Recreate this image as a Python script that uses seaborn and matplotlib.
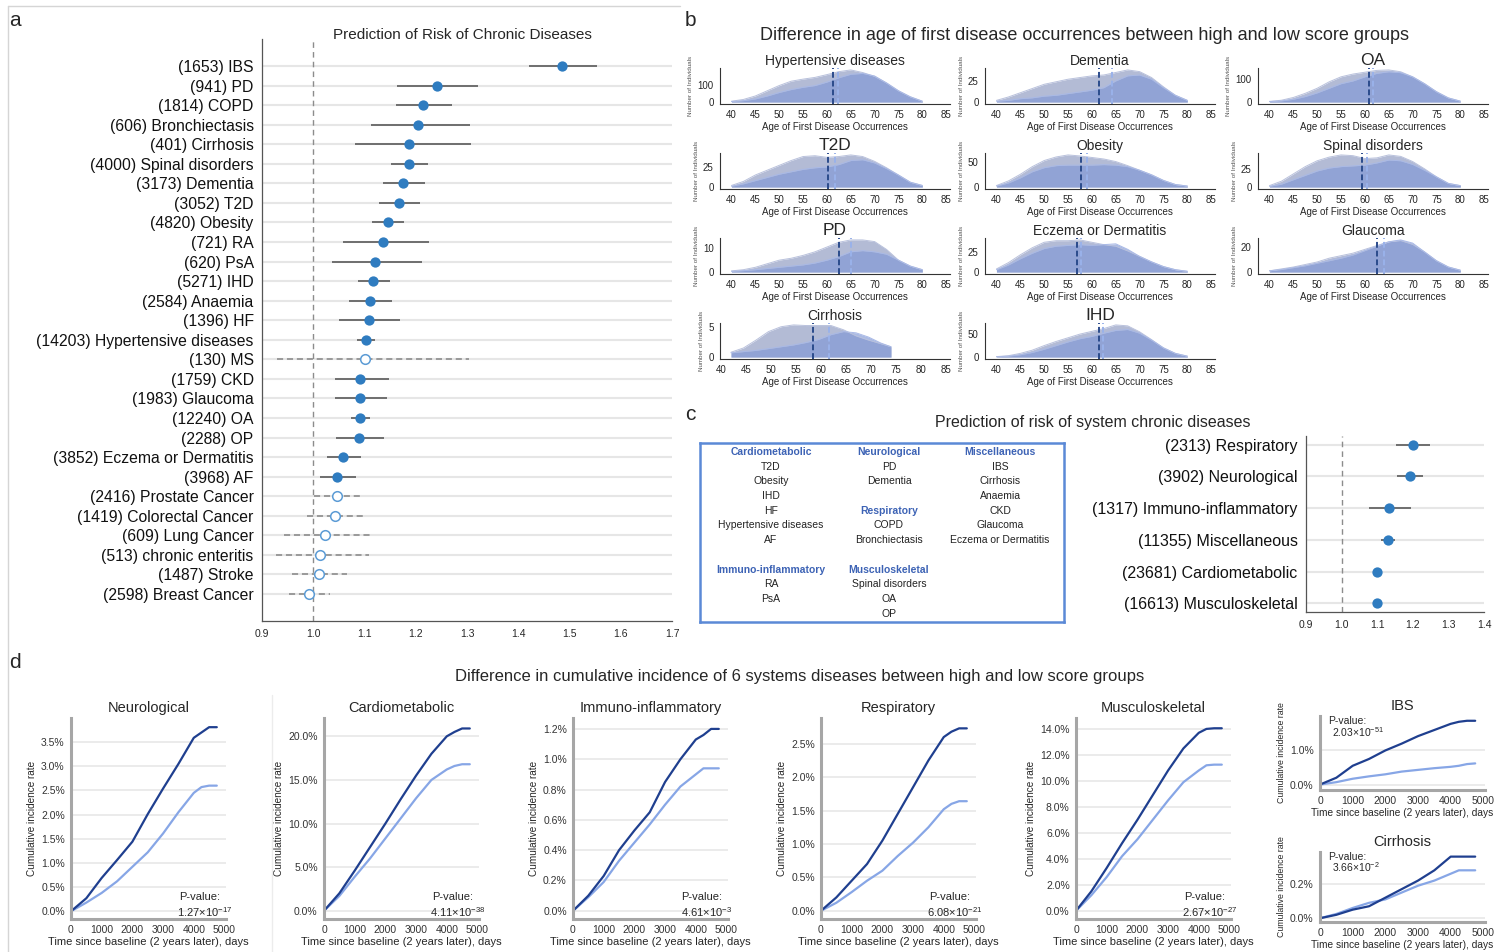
import numpy as np
import pandas as pd
import matplotlib
matplotlib.use("Agg")
import matplotlib.pyplot as plt
import seaborn as sns
from matplotlib import font_manager as fm
from matplotlib.ticker import FuncFormatter

# ---------------- a: forest plot of single diseases
diseases = ["IBS", "PD", "COPD", "Bronchiectasis", "Cirrhosis", "Spinal disorders", "Dementia", "T2D",
            "Obesity", "RA", "PsA", "IHD", "Anaemia", "HF", "Hypertensive diseases", "MS", "CKD",
            "Glaucoma", "OA", "OP", "Eczema or Dermatitis", "AF", "Prostate Cancer", "Colorectal Cancer",
            "Lung Cancer", "chronic enteritis", "Stroke", "Breast Cancer"]
cases = [1653, 941, 1814, 606, 401, 4000, 3173, 3052, 4820, 721, 620, 5271, 2584, 1396, 14203, 130,
         1759, 1983, 12240, 2288, 3852, 3968, 2416, 1419, 609, 513, 1487, 2598]
hr = [1.486, 1.241, 1.215, 1.205, 1.187, 1.186, 1.176, 1.168, 1.146, 1.137, 1.120, 1.117, 1.111, 1.108,
      1.103, 1.100, 1.092, 1.091, 1.091, 1.090, 1.059, 1.047, 1.047, 1.043, 1.023, 1.013, 1.012, 0.992]
hr_lo = [1.421, 1.164, 1.162, 1.112, 1.081, 1.151, 1.136, 1.129, 1.114, 1.059, 1.036, 1.087, 1.069, 1.050,
         1.086, 0.929, 1.042, 1.043, 1.073, 1.045, 1.026, 1.014, 1.002, 0.988, 0.942, 0.927, 0.958, 0.953]
hr_hi = [1.554, 1.322, 1.271, 1.305, 1.308, 1.224, 1.219, 1.209, 1.178, 1.225, 1.212, 1.149, 1.154, 1.170,
         1.121, 1.303, 1.147, 1.143, 1.111, 1.138, 1.094, 1.084, 1.095, 1.103, 1.110, 1.108, 1.065, 1.032]
significant = [True] * 15 + [False] + [True] * 6 + [False] * 6

# ---------------- b: age of first occurrence (curves read at 2.5 year steps)
AGES = [40, 42.5, 45, 47.5, 50, 52.5, 55, 57.5, 60, 62.5, 65, 67.5, 70, 72.5, 75, 77.5, 80]
CIRR_AGES = [42, 44.5, 47, 49.5, 52, 54.5, 57, 59.5, 62, 64.5, 67, 69.5, 72, 74]
b_names = ["Hypertensive diseases", "Dementia", "OA", "T2D", "Obesity", "Spinal disorders",
           "PD", "Eczema or Dermatitis", "Glaucoma", "Cirrhosis", "IHD"]
b_high = [
    [5, 15, 35, 65, 95, 120, 132, 142, 158, 175, 185, 170, 148, 110, 65, 30, 5],
    [2, 6, 11, 16, 21, 24, 27, 29, 31, 32, 35, 38, 36, 29, 18, 8, 2],
    [3, 8, 20, 38, 60, 88, 110, 122, 130, 138, 140, 132, 110, 80, 45, 18, 4],
    [2, 7, 15, 21, 27, 33, 38, 39, 37, 38, 40, 38, 32, 24, 15, 6, 2],
    [3, 12, 25, 40, 52, 59, 63, 61, 58, 55, 50, 42, 33, 24, 13, 5, 2],
    [2, 8, 18, 28, 36, 41, 44, 43, 39, 40, 44, 42, 35, 25, 14, 5, 2],
    [0.5, 1, 2, 3.5, 5, 5.8, 7, 8.5, 10.5, 12.5, 13.5, 13.5, 12.8, 9.5, 5, 2.5, 1],
    [4, 12, 22, 31, 38, 40, 40, 41, 38, 35, 33, 27, 20, 13, 7, 3, 1],
    [1, 2.5, 4, 6, 8, 11, 13, 15, 18, 21, 24, 25, 22, 16, 9, 4, 1.5],
    [0.8, 1.5, 2.8, 4.2, 5.0, 5.3, 5.2, 5.2, 5.2, 4.5, 3.5, 2.8, 2.2, 1.7],
    [1, 3, 8, 15, 25, 34, 42, 50, 56, 62, 70, 68, 55, 38, 20, 8, 2],
]
b_low = [
    [3, 8, 18, 35, 55, 72, 85, 95, 115, 140, 160, 165, 150, 110, 65, 30, 5],
    [1, 2, 4, 5, 7, 8, 10, 12, 14, 17, 25, 31, 32, 27, 17, 8, 2],
    [2, 5, 12, 24, 40, 60, 80, 92, 110, 125, 132, 128, 110, 80, 45, 18, 4],
    [1, 4, 8, 12, 16, 19, 22, 24, 25, 28, 33, 34, 30, 23, 15, 6, 2],
    [2, 8, 18, 30, 38, 42, 43, 43, 43, 44, 43, 40, 33, 24, 13, 5, 2],
    [1, 4, 10, 16, 22, 26, 28, 29, 30, 33, 37, 36, 31, 23, 14, 5, 2],
    [0.3, 0.6, 1, 1.5, 2, 2.5, 3, 3.8, 5, 6.5, 8.5, 9, 8.5, 7.5, 5, 2.5, 1],
    [3, 9, 17, 24, 30, 33, 34, 35, 34, 35, 36, 29, 20, 13, 7, 3, 1],
    [1, 2, 3.5, 5, 7, 9, 11, 13.5, 17, 20.5, 24, 25.5, 23, 16, 9, 4, 1.5],
    [0.7, 0.9, 1.1, 1.4, 1.7, 2.0, 2.4, 2.9, 3.7, 4.2, 4.0, 3.3, 2.3, 1.7],
    [0.5, 2, 5, 10, 17, 25, 33, 40, 45, 52, 58, 60, 52, 37, 20, 8, 2],
]
b_mean_high = [61.2, 61.5, 60.8, 60.2, 57.8, 59.4, 62.5, 56.8, 62.5, 58.4, 61.5]
b_mean_low = [62.4, 64.2, 61.8, 61.8, 59.0, 60.5, 65.0, 57.7, 64.0, 61.5, 62.3]
b_yticks = [[0, 100], [0, 25], [0, 100], [0, 25], [0, 50], [0, 25], [0, 10], [0, 25], [0, 20], [0, 5], [0, 50]]

# ---------------- c: system level
systems = ["Respiratory", "Neurological", "Immuno-inflammatory", "Miscellaneous", "Cardiometabolic", "Musculoskeletal"]
sys_cases = [2313, 3902, 1317, 11355, 23681, 16613]
sys_hr = [1.200, 1.193, 1.132, 1.130, 1.100, 1.100]
sys_lo = [1.153, 1.155, 1.076, 1.112, 1.091, 1.090]
sys_hi = [1.247, 1.230, 1.196, 1.150, 1.110, 1.111]
group_cols = [
    [("Cardiometabolic", ["T2D", "Obesity", "IHD", "HF", "Hypertensive diseases", "AF"]),
     ("Immuno-inflammatory", ["RA", "PsA"])],
    [("Neurological", ["PD", "Dementia"]), ("Respiratory", ["COPD", "Bronchiectasis"]),
     ("Musculoskeletal", ["Spinal disorders", "OA", "OP"])],
    [("Miscellaneous", ["IBS", "Cirrhosis", "Anaemia", "CKD", "Glaucoma", "Eczema or Dermatitis"])],
]

# ---------------- d: cumulative incidence (%)
DAYS = [0, 500, 1000, 1500, 2000, 2500, 3000, 3500, 4000, 4250, 4500, 4750]
d_names = ["Neurological", "Cardiometabolic", "Immuno-inflammatory", "Respiratory", "Musculoskeletal", "IBS", "Cirrhosis"]
d_high = [
    [0, 0.27, 0.69, 1.06, 1.44, 2.01, 2.54, 3.05, 3.59, 3.70, 3.81, 3.81],
    [0, 2.0, 4.6, 7.3, 10.0, 12.8, 15.5, 18.0, 20.0, 20.5, 20.9, 20.9],
    [0, 0.10, 0.23, 0.40, 0.53, 0.65, 0.85, 1.00, 1.13, 1.16, 1.20, 1.20],
    [0, 0.20, 0.45, 0.70, 1.05, 1.45, 1.85, 2.25, 2.60, 2.68, 2.73, 2.73],
    [0, 1.5, 3.3, 5.2, 7.0, 8.9, 10.8, 12.5, 13.7, 14.0, 14.05, 14.05],
    [0, 0.20, 0.55, 0.75, 1.00, 1.20, 1.42, 1.60, 1.78, 1.84, 1.87, 1.87],
    [0, 0.02, 0.05, 0.07, 0.12, 0.17, 0.22, 0.28, 0.36, 0.36, 0.36, 0.36],
]
d_low = [
    [0, 0.18, 0.38, 0.62, 0.92, 1.22, 1.61, 2.05, 2.45, 2.57, 2.60, 2.60],
    [0, 1.7, 3.9, 6.0, 8.3, 10.6, 12.9, 15.0, 16.2, 16.6, 16.8, 16.8],
    [0, 0.09, 0.19, 0.33, 0.45, 0.57, 0.70, 0.82, 0.90, 0.94, 0.94, 0.94],
    [0, 0.12, 0.28, 0.45, 0.60, 0.82, 1.02, 1.25, 1.52, 1.60, 1.64, 1.64],
    [0, 1.2, 2.6, 4.2, 5.5, 7.0, 8.5, 9.9, 10.8, 11.2, 11.25, 11.25],
    [0, 0.07, 0.17, 0.24, 0.30, 0.38, 0.43, 0.48, 0.52, 0.55, 0.60, 0.62],
    [0, 0.025, 0.06, 0.09, 0.11, 0.15, 0.19, 0.22, 0.26, 0.28, 0.28, 0.28],
]
d_pval = [("1.27", "-17"), ("4.11", "-38"), ("4.61", "-3"), ("6.08", "-21"), ("2.67", "-27"), ("2.03", "-51"), ("3.66", "-2")]
d_yticks = [np.arange(0, 3.6, 0.5), np.arange(0, 21, 5), np.arange(0, 1.21, 0.2), np.arange(0, 2.6, 0.5),
            np.arange(0, 14.1, 2), [0, 1.0], [0, 0.2]]
d_ylim = [(-0.16, 4.0), (-0.94, 22.1), (-0.054, 1.272), (-0.123, 2.885), (-0.63, 14.84), (-0.16, 2.01), (-0.022, 0.387)]

# ---------------- style
sns.set_theme(style="white")
names = {f.name for f in fm.fontManager.ttflist}
NARROW = ["Liberation Sans Narrow", "Liberation Sans", "DejaVu Sans"] if "Liberation Sans Narrow" in names \
    else ["Liberation Sans", "DejaVu Sans"]
plt.rcParams["font.family"] = ["Liberation Sans", "DejaVu Sans"]
plt.rcParams["mathtext.fontset"] = "custom"
plt.rcParams["mathtext.rm"] = "Liberation Sans"
plt.rcParams["mathtext.it"] = "Liberation Sans:italic"

BLUE = "#2f7cc0"
OPEN = "#5b9bd5"
DARK = "#1f3f8f"
LIGHT = "#87a6e6"
FILL_HI = "#9aa5c8"
FILL_LO = "#7f97d6"

W, H = 1504, 952
fig = plt.figure(figsize=(W / 100, H / 100), dpi=100)


def px_axes(left, top, width, height):
    return fig.add_axes([left / W, 1 - (top + height) / H, width / W, height / H])


def px_text(x, y, s, **kw):
    kw.setdefault("ha", "center")
    kw.setdefault("va", "center")
    fig.text(x / W, 1 - y / H, s, **kw)


def forest(ax, labels, est, lo, hi, sig, xlim, top_pad, label_size):
    n = len(labels)
    y = np.arange(n)
    df = pd.DataFrame({"hr": est, "lo": lo, "hi": hi, "y": y, "sig": sig})
    for yi in y:
        ax.axhline(yi, color="#e6e6e6", lw=1.5, zorder=0)
    ax.axvline(1.0, color="#8c8c8c", ls=(0, (4, 3)), lw=1, zorder=1)
    s_df = df[df.sig]
    n_df = df[~df.sig]
    ax.hlines(s_df.y, s_df.lo, s_df.hi, color="#6e6e6e", lw=1.4, zorder=2)
    ax.hlines(n_df.y, n_df.lo, n_df.hi, color="#858585", lw=1.1, linestyles=(0, (4, 2.5)), zorder=2)
    sns.scatterplot(data=s_df, x="hr", y="y", color=BLUE, s=55, linewidth=0, ax=ax, zorder=3)
    if len(n_df):
        sns.scatterplot(data=n_df, x="hr", y="y", color="white", edgecolor=OPEN, s=48, linewidth=1.1,
                        ax=ax, zorder=3)
    ax.set_ylim(n - 1 + top_pad, -top_pad)
    ax.set_xlim(*xlim)
    ax.set_yticks(y, labels=labels, fontsize=label_size, family=NARROW, color="#111")
    ticks = np.arange(xlim[0], xlim[1] + 0.001, 0.1)
    ax.set_xticks(ticks, labels=[f"{t:.1f}" for t in ticks], fontsize=7.5)
    ax.set_xlabel("")
    ax.set_ylabel("")
    for side in ["top", "right"]:
        ax.spines[side].set_visible(False)
    for side in ["left", "bottom"]:
        ax.spines[side].set_color("#555")
        ax.spines[side].set_linewidth(0.9)
    ax.tick_params(length=4, width=0.8, color="#555", pad=2)


# decorative frame lines
fig.add_artist(plt.Line2D([8 / W, 8 / W], [0, 1 - 6 / H], color="#d5d5d5", lw=1))
fig.add_artist(plt.Line2D([8 / W, 680 / W], [1 - 6 / H, 1 - 6 / H], color="#d5d5d5", lw=1))
fig.add_artist(plt.Line2D([272 / W, 272 / W], [0, 1 - 695 / H], color="#ececec", lw=1))

# ================= a
px_text(15, 20, "a", fontsize=15)
px_text(462, 35, "Prediction of Risk of Chronic Diseases", fontsize=11, family=NARROW)
ax_a = px_axes(262, 39, 410, 582)
forest(ax_a, [f"({c}) {d}" for c, d in zip(cases, diseases)], hr, hr_lo, hr_hi, significant,
       (0.9, 1.7), 1.38, 11.3)

# ================= b
px_text(690, 20, "b", fontsize=15)
px_text(1085, 35, "Difference in age of first disease occurrences between high and low score groups",
        fontsize=13, family=NARROW)
b_lefts = [720, 985, 1258]
b_tops = [68, 153, 238, 323]
for i, name in enumerate(b_names):
    r, c = divmod(i, 3)
    ax = px_axes(b_lefts[c], b_tops[r], 230, 36)
    ages = CIRR_AGES if name == "Cirrhosis" else AGES
    ax.fill_between(ages, b_high[i], color=FILL_HI, alpha=0.75, lw=0)
    ax.fill_between(ages, b_low[i], color=FILL_LO, alpha=0.65, lw=0)
    sns.lineplot(x=ages, y=b_high[i], ax=ax, color="#b9c1dc", lw=0.7)
    sns.lineplot(x=ages, y=b_low[i], ax=ax, color="#a9b9e6", lw=0.7)
    ax.axvline(b_mean_high[i], color="#2b4b8c", ls=(0, (3, 1.5)), lw=1.4)
    ax.axvline(b_mean_low[i], color="#9ab2ea", ls=(0, (3, 1.5)), lw=1.4)
    ax.margins(y=0.06)
    ax.set_xlim(39.8 if name == "Cirrhosis" else 37.6, 85.8)
    ax.set_xticks(range(40, 86, 5))
    ax.set_yticks(b_yticks[i])
    ax.tick_params(labelsize=7, length=3, width=0.7, color="#333", pad=1.5)
    for lab in ax.get_xticklabels() + ax.get_yticklabels():
        lab.set_family(NARROW)
    ax.set_xlabel("Age of First Disease Occurrences", fontsize=7, family=NARROW, labelpad=1.5)
    ax.set_ylabel("Number of Individuals", fontsize=4.5, color="#555", labelpad=3)
    ax.set_title(name, fontsize=12.5 if len(name) <= 3 else 10, family=NARROW, pad=2)
    for side in ["top", "right"]:
        ax.spines[side].set_visible(False)
    for side in ["left", "bottom"]:
        ax.spines[side].set_color("#333")
        ax.spines[side].set_linewidth(0.8)

# ================= c
px_text(690, 414, "c", fontsize=15)
px_text(1093, 422, "Prediction of risk of system chronic diseases", fontsize=11.5, family=NARROW)
ax_box = px_axes(700, 443, 364, 179)
ax_box.set_xticks([])
ax_box.set_yticks([])
for sp in ax_box.spines.values():
    sp.set_color("#5b89d6")
    sp.set_linewidth(1.8)
col_x = [771, 889, 1000]
for cx, groups in zip(col_x, group_cols):
    row = 0
    for head, items in groups:
        px_text(cx, 452 + row * 14.7, head, fontsize=7.5, family=NARROW, color="#3d63b5", fontweight="bold")
        row += 1
        for it in items:
            px_text(cx, 452 + row * 14.7, it, fontsize=7.5, family=NARROW, color="#222")
            row += 1
        row += 1

ax_c = px_axes(1306, 436, 178, 176)
forest(ax_c, [f"({c}) {s}" for c, s in zip(sys_cases, systems)], sys_hr, sys_lo, sys_hi,
       [True] * len(systems), (0.9, 1.4), 0.27, 11.5)

# ================= d
px_text(15, 662, "d", fontsize=15)
px_text(800, 676, "Difference in cumulative incidence of 6 systems diseases between high and low score groups",
        fontsize=12, family=NARROW)
d_boxes = [(71, 718, 155, 201), (324, 718, 155, 201), (573, 718, 155, 201), (821, 718, 155, 201),
           (1076, 718, 155, 201), (1320, 716, 165, 74), (1320, 852, 165, 70)]
for i, name in enumerate(d_names):
    ax = px_axes(*d_boxes[i])
    small = i >= 5
    sns.lineplot(x=DAYS, y=d_low[i], ax=ax, color=LIGHT, lw=1.6)
    sns.lineplot(x=DAYS, y=d_high[i], ax=ax, color=DARK, lw=1.6)
    ax.set_xlim(0, 5050)
    ax.set_ylim(*d_ylim[i])
    ax.set_xticks(range(0, 5001, 1000))
    ax.set_yticks(d_yticks[i])
    ax.yaxis.set_major_formatter(FuncFormatter(lambda v, p: f"{v:.1f}%"))
    ax.yaxis.grid(True, color="#e8e8e8", lw=1.2)
    ax.xaxis.grid(False)
    ax.tick_params(labelsize=7.5, length=3, width=0.8, color="#999", labelcolor="#333", pad=1.5)
    for lab in ax.get_xticklabels() + ax.get_yticklabels():
        lab.set_family(NARROW)
    for side in ["top", "right"]:
        ax.spines[side].set_visible(False)
    for side in ["left", "bottom"]:
        ax.spines[side].set_color("#a6a6a6")
        ax.spines[side].set_linewidth(2.2)
    ax.set_xlabel("Time since baseline (2 years later), days", fontsize=7.3 if small else 8,
                  family=NARROW, labelpad=1)
    ax.set_ylabel("Cumulative incidence rate", fontsize=6.3 if small else 7.2, labelpad=3)
    ax.set_title(name, fontsize=10.5, family=NARROW, pad=4)
    mant, ex = d_pval[i]
    if not small:
        ax.text(0.83, 0.11, "P-value:", transform=ax.transAxes, ha="center", va="center",
                fontsize=8, family=NARROW)
        ax.text(0.86, 0.035, mant + "×10$^{" + ex + "}$", transform=ax.transAxes, ha="center", va="center",
                fontsize=8, family=NARROW)
    else:
        ax.text(0.05, 0.93, "P-value:", transform=ax.transAxes, ha="left", va="center",
                fontsize=7.5, family=NARROW)
        ax.text(0.07, 0.78, mant + "×10$^{" + ex + "}$", transform=ax.transAxes, ha="left", va="center",
                fontsize=7.5, family=NARROW)

fig.savefig("out.png", dpi=100)
